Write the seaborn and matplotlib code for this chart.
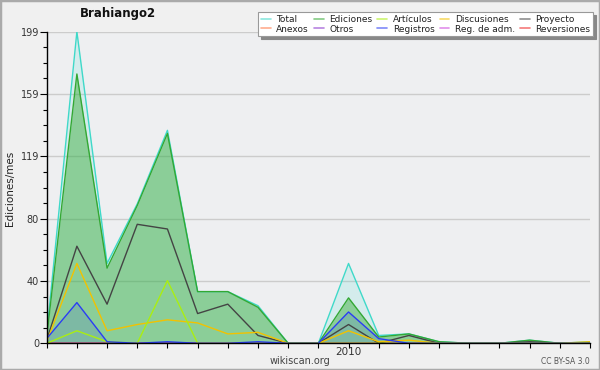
import matplotlib
matplotlib.use("Agg")
import matplotlib.pyplot as plt
from matplotlib.lines import Line2D
from matplotlib.patches import Rectangle
import seaborn as sns
import numpy as np

# ---- data (monthly, Mar 2009 .. Sep 2010) ----
months = list(range(19))
x_labels = [""] * 10 + ["2010"] + [""] * 8
total       = [6, 199, 51, 89, 136, 33, 33, 24, 0, 0, 51, 5, 6, 1, 0, 0, 2, 0, 1]
ediciones   = [4, 172, 48, 88, 134, 33, 33, 23, 0, 0, 29, 4, 6, 1, 0, 0, 2, 0, 0]
articulos   = [0, 8, 1, 0, 40, 0, 0, 0, 0, 0, 0, 0, 0, 0, 0, 0, 0, 0, 0]
discusiones = [1, 51, 8, 12, 15, 13, 6, 7, 0, 0, 8, 1, 2, 0, 0, 0, 0, 0, 1]
proyecto    = [2, 62, 25, 76, 73, 19, 25, 5, 0, 0, 12, 0, 5, 0, 0, 0, 1, 0, 0]
anexos      = [0] * 19
otros       = [0] * 19
registros   = [3, 26, 1, 0, 1, 0, 0, 1, 0, 0, 20, 3, 0, 0, 0, 0, 0, 0, 0]
reg_adm     = [0] * 19
reversiones = [0] * 19
y_ticks = [0, 39.8, 79.6, 119.4, 159.2, 199]
y_tick_labels = ["0", "40", "80", "119", "159", "199"]
y_max = 199

series_names = ["Total", "Anexos", "Ediciones", "Otros", "Artículos", "Registros",
                "Discusiones", "Reg. de adm.", "Proyecto", "Reversiones"]
colors = {
    "Total": "#3fd9c9", "Ediciones": "#33a833", "Artículos": "#aaee11",
    "Discusiones": "#f2c200", "Proyecto": "#444444", "Anexos": "#ff7744",
    "Otros": "#8833cc", "Registros": "#2a3cf5", "Reg. de adm.": "#cc44dd",
    "Reversiones": "#ee2222",
}
values = {
    "Total": total, "Ediciones": ediciones, "Artículos": articulos,
    "Discusiones": discusiones, "Proyecto": proyecto, "Anexos": anexos,
    "Otros": otros, "Registros": registros, "Reg. de adm.": reg_adm,
    "Reversiones": reversiones,
}

sns.set_theme(style="ticks")
plt.rcParams["font.family"] = ["DejaVu Sans"]

fig = plt.figure(figsize=(6, 3.7), dpi=100, facecolor="#f0f0f0")
fig.patches.append(Rectangle((0, 0), 1, 1, transform=fig.transFigure, fill=False,
                             edgecolor="#aaaaaa", linewidth=2.5))
ax = fig.add_axes([46.7 / 600, 1 - 343.3 / 370, (590 - 46.7) / 600, (343.3 - 31.7) / 370])
ax.set_facecolor("#eeeff1")

# fills
ax.fill_between(months, total, color="#40e0d0", alpha=0.15, linewidth=0, zorder=1)
ax.fill_between(months, ediciones, color="#33aa33", alpha=0.45, linewidth=0, zorder=1)
ax.fill_between(months, registros, color="#3344ee", alpha=0.15, linewidth=0, zorder=1)

# lines
draw_order = ["Anexos", "Otros", "Reg. de adm.", "Reversiones", "Total", "Ediciones",
              "Proyecto", "Discusiones", "Artículos", "Registros"]
for name in draw_order:
    sns.lineplot(x=months, y=values[name], color=colors[name], linewidth=1.0, ax=ax,
                 zorder=3)

ax.set_xlim(0, 18)
ax.set_ylim(0, y_max)
ax.set_xticks(months)
ax.set_xticklabels(x_labels)
ax.set_yticks(y_ticks)
ax.set_yticklabels(y_tick_labels)
ax.set_yticks(np.arange(0, 200, 9.95), minor=True)
ax.yaxis.grid(True, which="major", color="#cccccc", linewidth=1.0)
ax.set_axisbelow(True)
ax.set_xlabel("")
ax.set_ylabel("")
for s in ["top", "right"]:
    ax.spines[s].set_visible(False)
for s in ["left", "bottom"]:
    ax.spines[s].set_color("black")
    ax.spines[s].set_linewidth(1.0)
    ax.spines[s].set_zorder(4)
ax.tick_params(axis="y", which="major", length=4.8, width=0.8, pad=0.7,
               labelsize=7, colors="black", labelcolor="#333333")
ax.tick_params(axis="y", which="minor", length=3, width=0.8, colors="black")
ax.tick_params(axis="x", which="major", length=3.6, width=0.8, pad=-1,
               labelsize=7.5, colors="black", labelcolor="#333333")

# legend
handles = [Line2D([], [], color=colors[n], linewidth=1.2, alpha=0.6) for n in series_names]
leg = fig.legend(handles, series_names, ncol=5, loc="upper right",
                 bbox_to_anchor=(593 / 600, 1 - 12 / 370), bbox_transform=fig.transFigure,
                 borderaxespad=0, fontsize=6.5, handlelength=1.1, handletextpad=0.6,
                 columnspacing=0.55, labelspacing=0.1, borderpad=0.3,
                 frameon=True, fancybox=False, framealpha=1,
                 shadow={"color": "#888888", "alpha": 1})
leg.get_frame().set_edgecolor("#999999")
leg.get_frame().set_facecolor("white")
leg.get_frame().set_linewidth(0.8)
for t in leg.get_texts():
    t.set_color("#222222")

fig.text(117.5 / 600, 1 - 13 / 370, "Brahiango2", fontweight="bold", fontsize=8.5,
         ha="center", va="center", color="#111111")
fig.text(10 / 600, 1 - 188 / 370, "Ediciones/mes", rotation=90, ha="center",
         va="center", fontsize=7.5, color="#222222")
fig.text(0.5, 1 - 361 / 370, "wikiscan.org", ha="center", va="center", fontsize=7,
         color="#444444")
fig.text(590 / 600, 1 - 362 / 370, "CC BY-SA 3.0", ha="right", va="center",
         fontsize=5.5, color="#555555")

fig.savefig("out.png", dpi=100, facecolor=fig.get_facecolor())
